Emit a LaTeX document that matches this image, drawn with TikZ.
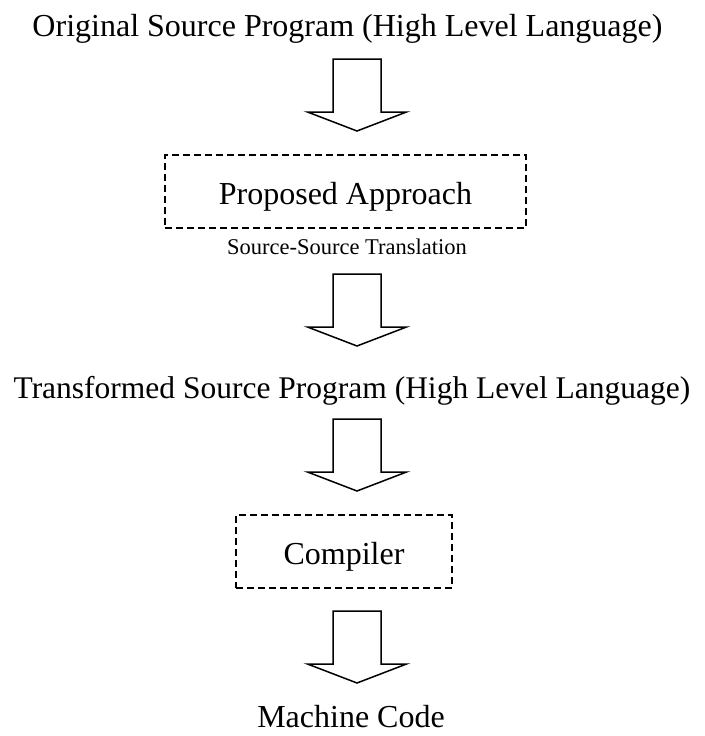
\documentclass[tikz,border=0pt]{standalone}
\usepackage{fontspec}
\setmainfont{Liberation Serif}
\begin{document}
\begin{tikzpicture}[x=1pt,y=-1pt,
  label text/.style={inner sep=0pt, anchor=base, font=\fontsize{32}{36}\selectfont},
  small text/.style={inner sep=0pt, anchor=base, font=\fontsize{22.5}{26}\selectfont},
  dashbox/.style={draw, line width=1.6pt, dash pattern=on 7pt off 4pt,
    minimum height=73pt, inner sep=0pt, text height=25pt, text depth=0pt,
    font=\fontsize{32}{36}\selectfont},
  blockarrow/.pic={
    \draw[line width=1.5pt, line join=miter, fill=white]
      (-24,0) -- (24,0) -- (24,53) -- (49.5,53) -- (0,72)
      -- (-49.5,53) -- (-24,53) -- cycle;
  }]
\useasboundingbox (0,0) rectangle (704,736);

% stages of the translation flow
\node[label text] (orig) at (347.5,36) {Original Source Program (High Level Language)};
\node[dashbox, minimum width=361pt] (approach) at (345.5,191.5) {Proposed Approach};
\node[small text] (sst) at (347,254) {Source-Source Translation};
\node[label text, font=\fontsize{31.5}{36}\selectfont] (trans) at (352,398) {Transformed Source Program (High Level Language)};
\node[dashbox, minimum width=216pt] (compiler) at (344,551.5) {Compiler};
\node[label text] (mc) at (351,727) {Machine Code};

% hollow block arrows between the stages
\coordinate (a1) at (357,59);
\coordinate (a2) at (357,274);
\coordinate (a3) at (357,419);
\coordinate (a4) at (357,611);
\pic at (a1) {blockarrow};
\pic at (a2) {blockarrow};
\pic at (a3) {blockarrow};
\pic at (a4) {blockarrow};
\end{tikzpicture}
\end{document}
